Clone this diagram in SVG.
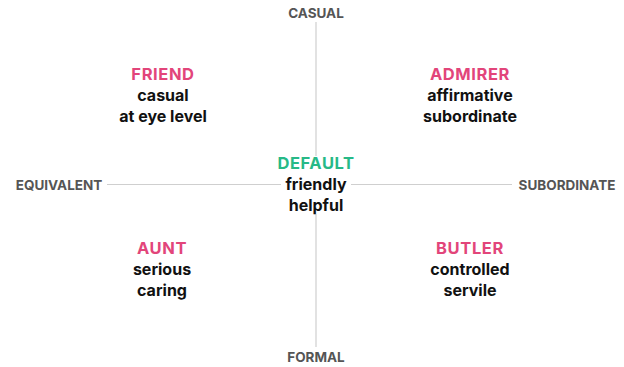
<svg xmlns="http://www.w3.org/2000/svg" width="624" height="367" viewBox="0 0 624 367">
<style>
text{font-family:Inter,"Liberation Sans",sans-serif;font-weight:700;text-anchor:middle}
.ax{font-size:13.5px;fill:#555}
.t{font-size:16.5px;letter-spacing:0.6px;fill:#e2457a}
.g{font-size:16.5px;letter-spacing:0.6px;fill:#27b987}
.d{font-size:16px;fill:#111}
.ln{stroke:#cfcfcf;stroke-width:1.2;fill:none}
</style>
<rect width="624" height="367" fill="#fff"/>
<g id="connectors">
<line class="ln" x1="316" y1="22" x2="316" y2="347"/>
<line class="ln" x1="107" y1="184.5" x2="512" y2="184.5"/>
<rect x="281" y="156" width="70" height="58" fill="#fff"/>
</g>
<g id="axis-casual"><text class="ax" x="316" y="18">CASUAL</text></g>
<g id="axis-formal"><text class="ax" x="316" y="362">FORMAL</text></g>
<g id="axis-equivalent"><text class="ax" x="59" y="189.5">EQUIVALENT</text></g>
<g id="axis-subordinate"><text class="ax" x="567" y="189.5">SUBORDINATE</text></g>
<g id="friend">
<text class="t" x="163" y="80">FRIEND</text>
<text class="d" x="163" y="101">casual</text>
<text class="d" x="163" y="122">at eye level</text>
</g>
<g id="admirer">
<text class="t" x="470" y="80">ADMIRER</text>
<text class="d" x="470" y="101">affirmative</text>
<text class="d" x="470" y="122">subordinate</text>
</g>
<g id="default">
<text class="g" x="316" y="169">DEFAULT</text>
<text class="d" x="316" y="190">friendly</text>
<text class="d" x="316" y="211">helpful</text>
</g>
<g id="aunt">
<text class="t" x="162" y="254">AUNT</text>
<text class="d" x="162" y="275">serious</text>
<text class="d" x="162" y="296">caring</text>
</g>
<g id="butler">
<text class="t" x="470" y="254">BUTLER</text>
<text class="d" x="470" y="275">controlled</text>
<text class="d" x="470" y="296">servile</text>
</g>
</svg>
